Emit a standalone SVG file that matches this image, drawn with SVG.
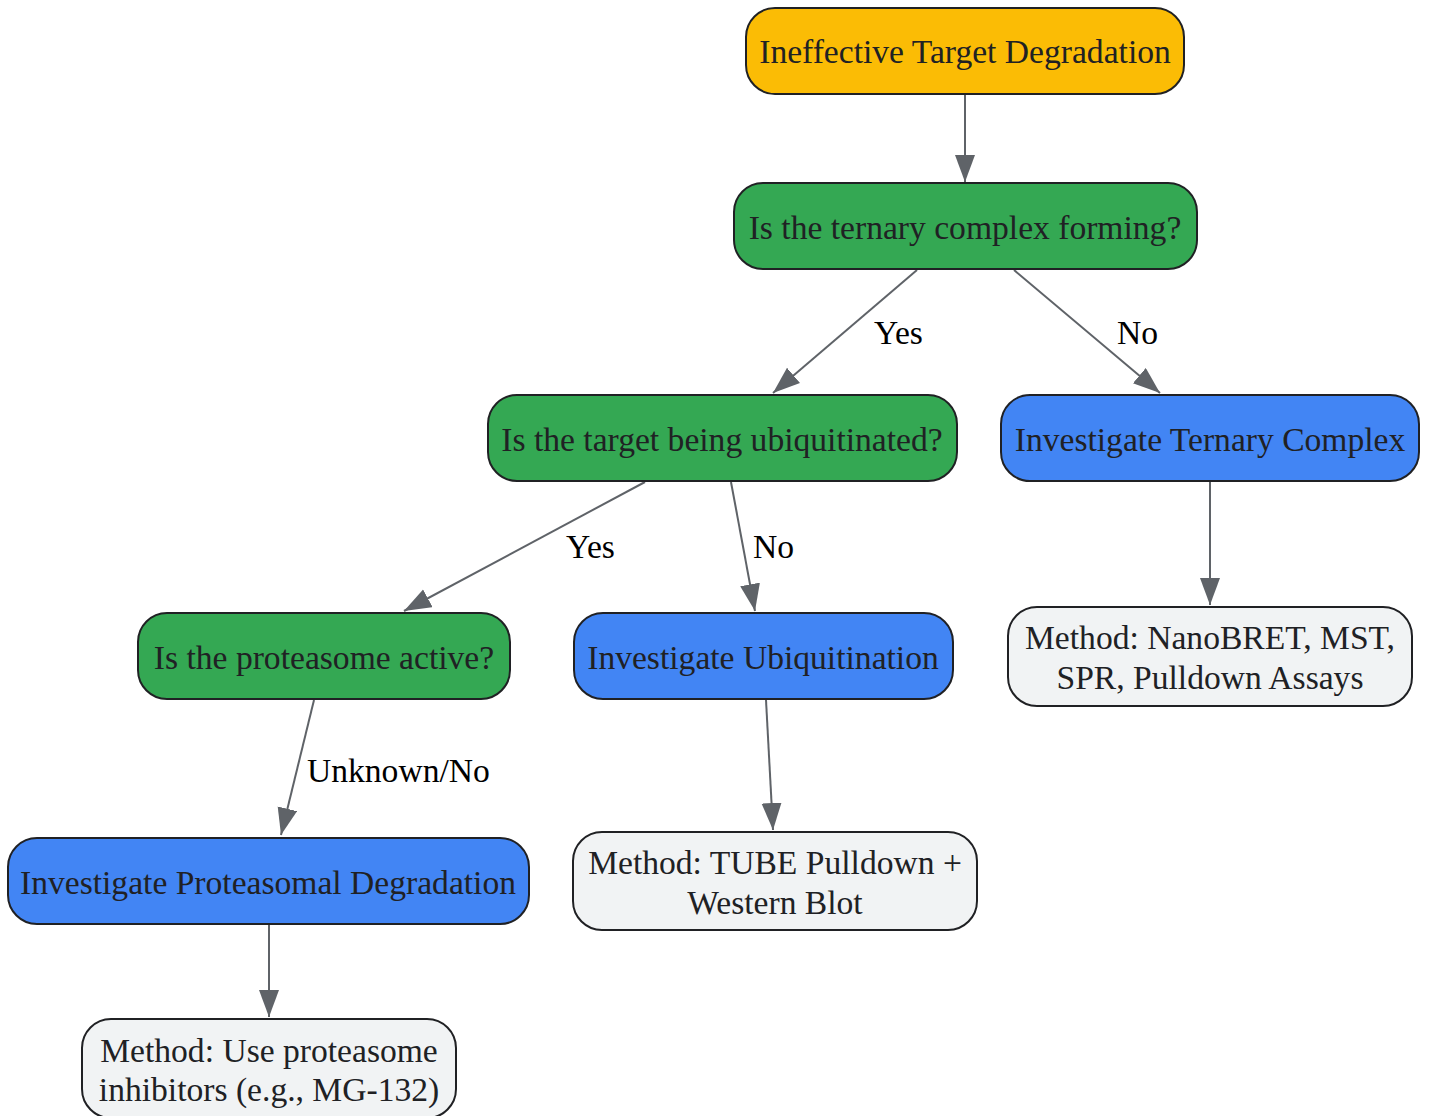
<svg xmlns="http://www.w3.org/2000/svg" width="1430" height="1116" viewBox="0 0 1430 1116">
<defs>
<style>
.n{stroke:#202124;stroke-width:2}
.y{fill:#FBBC05}.g{fill:#34A853}.b{fill:#4285F4}.w{fill:#F1F3F4}
.t{font-family:"Liberation Serif","Times New Roman",serif;font-size:33.6px;fill:#202124;text-anchor:middle}
.l{font-family:"Liberation Serif","Times New Roman",serif;font-size:33.6px;fill:#000}
.e{stroke:#5F6368;stroke-width:2;fill:none;marker-end:url(#ah)}
</style>
<marker id="ah" markerUnits="userSpaceOnUse" markerWidth="28" markerHeight="22" refX="27" refY="10" orient="auto">
<path d="M0,0 L27,10 L0,20 z" fill="#5F6368"/>
</marker>
</defs>
<rect width="1430" height="1116" fill="#fff"/>
<g id="edges">
<line class="e" x1="965" y1="95" x2="965" y2="182"/>
<line class="e" x1="917" y1="270" x2="773" y2="393"/>
<line class="e" x1="1014" y1="270" x2="1160" y2="393"/>
<line class="e" x1="645" y1="482" x2="404" y2="611"/>
<line class="e" x1="731" y1="482" x2="755" y2="611"/>
<line class="e" x1="1210" y1="482" x2="1210" y2="605"/>
<line class="e" x1="314" y1="700" x2="281" y2="835"/>
<line class="e" x1="766" y1="700" x2="773" y2="830"/>
<line class="e" x1="269" y1="925" x2="269" y2="1017"/>
<text class="l" x="874" y="344">Yes</text>
<text class="l" x="1117" y="344">No</text>
<text class="l" x="566" y="558">Yes</text>
<text class="l" x="753" y="558">No</text>
<text class="l" x="307" y="782">Unknown/No</text>
</g>
<g id="n1"><rect class="n y" x="746" y="8" width="438" height="86" rx="29"/><text class="t" x="965" y="63">Ineffective Target Degradation</text></g>
<g id="n2"><rect class="n g" x="734" y="183" width="463" height="86" rx="29"/><text class="t" x="965" y="239">Is the ternary complex forming?</text></g>
<g id="n3"><rect class="n g" x="488" y="395" width="469" height="86" rx="29"/><text class="t" x="722" y="451">Is the target being ubiquitinated?</text></g>
<g id="n4"><rect class="n b" x="1001" y="395" width="418" height="86" rx="29"/><text class="t" x="1210" y="451">Investigate Ternary Complex</text></g>
<g id="n5"><rect class="n g" x="138" y="613" width="372" height="86" rx="29"/><text class="t" x="324" y="669">Is the proteasome active?</text></g>
<g id="n6"><rect class="n b" x="574" y="613" width="379" height="86" rx="29"/><text class="t" x="763" y="669">Investigate Ubiquitination</text></g>
<g id="n7"><rect class="n w" x="1008" y="607" width="404" height="99" rx="29"/><text class="t" x="1210" y="649">Method: NanoBRET, MST,</text><text class="t" x="1210" y="689">SPR, Pulldown Assays</text></g>
<g id="n8"><rect class="n b" x="8" y="838" width="521" height="86" rx="29"/><text class="t" x="268" y="894">Investigate Proteasomal Degradation</text></g>
<g id="n9"><rect class="n w" x="573" y="832" width="404" height="98" rx="29"/><text class="t" x="775" y="874">Method: TUBE Pulldown +</text><text class="t" x="775" y="914">Western Blot</text></g>
<g id="n10"><rect class="n w" x="82" y="1019" width="374" height="99" rx="29"/><text class="t" x="269" y="1062">Method: Use proteasome</text><text class="t" x="269" y="1101">inhibitors (e.g., MG-132)</text></g>
</svg>
